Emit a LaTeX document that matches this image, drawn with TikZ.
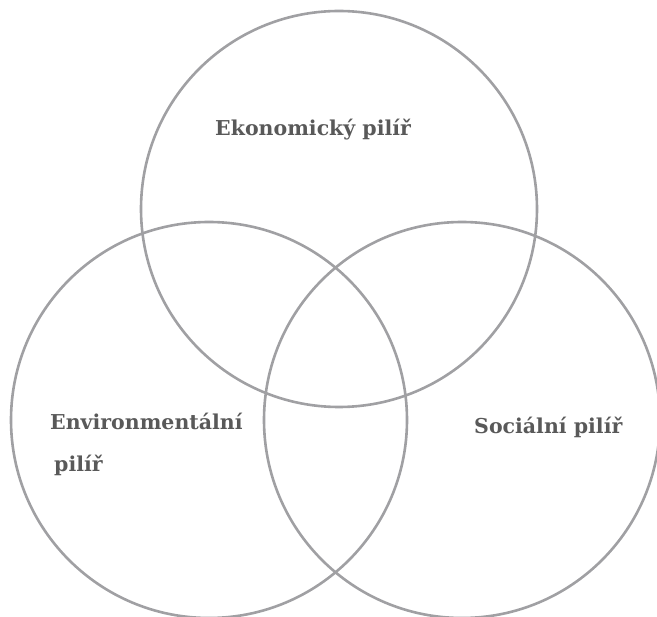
\documentclass[tikz,border=0pt]{standalone}
\usepackage{fontspec}
\setmainfont{DejaVu Serif}
\definecolor{ringgray}{HTML}{A0A0A3}
\definecolor{labelgray}{HTML}{595959}
\begin{document}
\begin{tikzpicture}[x=1pt,y=-1pt,
  ring/.style={draw=ringgray,line width=2.6pt,circle,minimum size=396pt,inner sep=0pt},
  pillar/.style={text=labelgray,font=\bfseries\fontsize{20.5}{24}\selectfont,anchor=base west,inner sep=0pt,align=left}]
\useasboundingbox (0,0) rectangle (657,617);
\node[ring] (econ) at (339,209) {};
\node[ring] (env) at (209,420) {};
\node[ring] (soc) at (462,420) {};
\node[pillar] (econlabel) at (215,136) {Ekonomický pilíř};
\node[pillar] (envlabel) at (50,430) {Environmentální};
\node[pillar] (envlabel2) at (54,472) {pilíř};
\node[pillar] (soclabel) at (474,434) {Sociální pilíř};
\end{tikzpicture}
\end{document}
